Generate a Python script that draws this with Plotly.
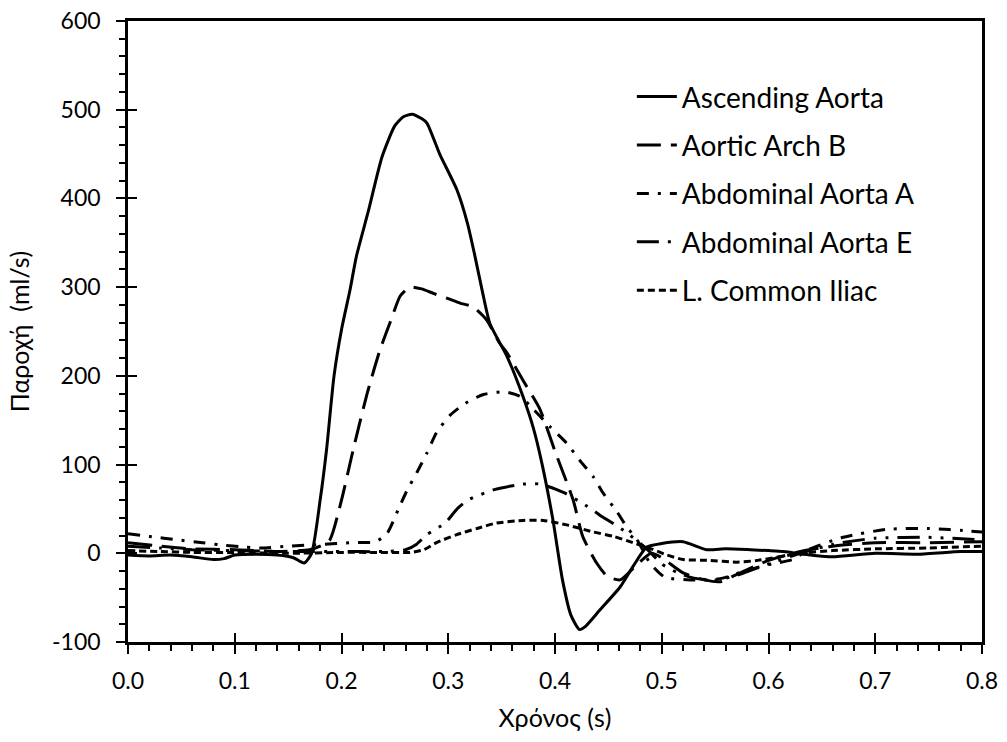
import plotly.graph_objects as go

# ---------------- data ----------------
asc_x = [0, 0.02, 0.04, 0.06, 0.08, 0.09, 0.10, 0.12, 0.14, 0.155, 0.165, 0.172, 0.18, 0.186,
         0.193, 0.20, 0.208, 0.214, 0.225, 0.238, 0.25, 0.258, 0.266, 0.275, 0.28, 0.292, 0.308,
         0.318, 0.325, 0.332, 0.339, 0.355, 0.369, 0.38, 0.388, 0.398, 0.407, 0.415, 0.423, 0.428,
         0.442, 0.461, 0.473, 0.486, 0.50, 0.52, 0.542, 0.56, 0.583, 0.60, 0.614, 0.64, 0.66,
         0.70, 0.74, 0.78, 0.80]
asc_y = [-2, -3, -2, -4, -7, -6, -2, -1, -2, -5, -11, 0, 60, 117,
         200, 252, 297, 335, 385, 447, 482, 492, 495, 490, 485, 450, 410,
         372, 335, 295, 259, 222, 180, 140, 100, 38, -30, -70, -86, -83,
         -64, -38, -15, 7, 11, 13, 4, 5, 4, 3, 2, -2, -4,
         0, -1, 2, 2]

arch_x = [0, 0.03, 0.06, 0.10, 0.14, 0.17, 0.18, 0.189, 0.20, 0.211, 0.224, 0.236, 0.247, 0.255,
          0.264, 0.275, 0.286, 0.30, 0.311, 0.323, 0.336, 0.348, 0.355, 0.37, 0.386, 0.40, 0.417,
          0.426, 0.439, 0.449, 0.461, 0.475, 0.49, 0.50, 0.52, 0.54, 0.555, 0.57, 0.60, 0.63,
          0.66, 0.70, 0.75, 0.80]
arch_y = [12, 8, 5, 4, 2, 4, 8, 15, 60, 117, 180, 229, 265, 290,
          300, 298, 293, 287, 282, 278, 263, 237, 226, 195, 162, 115, 60,
          19, -11, -26, -30, -15, 0, -5, -22, -30, -32, -24, -8, 2,
          8, 12, 12, 13]

abdA_x = [0, 0.02, 0.047, 0.07, 0.086, 0.11, 0.126, 0.15, 0.18, 0.21, 0.232, 0.243, 0.253, 0.261,
          0.271, 0.28, 0.289, 0.302, 0.316, 0.333, 0.353, 0.367, 0.38, 0.395, 0.411, 0.423, 0.436,
          0.445, 0.458, 0.467, 0.477, 0.489, 0.503, 0.527, 0.545, 0.557, 0.583, 0.603, 0.623,
          0.637, 0.67, 0.711, 0.751, 0.789, 0.80]
abdA_y = [22, 19, 15, 12, 9.5, 7, 6, 8, 10, 12, 13, 23, 49, 70,
          92, 113, 136, 156, 169, 179, 182, 177, 162, 143, 124, 105, 86,
          68, 47, 30, 15, -11, -27, -30, -30, -28, -18, -12, -7,
          4, 18, 27, 28, 25, 24]

abdE_x = [0, 0.03, 0.06, 0.10, 0.15, 0.20, 0.24, 0.26, 0.27, 0.28, 0.297, 0.309, 0.32, 0.344,
          0.37, 0.386, 0.409, 0.43, 0.442, 0.464, 0.486, 0.50, 0.515, 0.53, 0.55, 0.57, 0.60,
          0.63, 0.66, 0.70, 0.75, 0.80]
abdE_y = [8, 6, 4, 3, 2, 2, 2, 4, 10, 21, 34, 51, 61, 72,
          78, 78, 68, 53, 43, 26, 5, -12, -22, -28, -30, -25, -12,
          0, 10, 17, 18, 15]

ilia_x = [0, 0.03, 0.06, 0.10, 0.15, 0.20, 0.236, 0.265, 0.277, 0.289, 0.308, 0.327, 0.345, 0.37,
          0.389, 0.411, 0.436, 0.455, 0.473, 0.49, 0.505, 0.52, 0.545, 0.57, 0.59, 0.61, 0.63,
          0.66, 0.70, 0.75, 0.80]
ilia_y = [3, 2, 1, 1, 0, 1, 1, 1, 4, 12, 21, 28, 34, 37,
          37, 32, 24, 19, 12, 5, -2, -7, -8, -10, -8, -4, 0,
          3, 5, 6, 8]

names = ["Ascending Aorta", "Aortic Arch B", "Abdominal Aorta A", "Abdominal Aorta E", "L. Common Iliac"]
x_ticks = [0.0, 0.1, 0.2, 0.3, 0.4, 0.5, 0.6, 0.7, 0.8]
x_tick_text = ["0.0", "0.1", "0.2", "0.3", "0.4", "0.5", "0.6", "0.7", "0.8"]
y_ticks = [-100, 0, 100, 200, 300, 400, 500, 600]
y_tick_text = ["-100", "0", "100", "200", "300", "400", "500", "600"]

# ---------------- styles ----------------
dashes = ["solid", "24px,10px", "12px,9px,3px,9px", "22px,9px,3px,9px,3px,9px", "7px,4px"]
series = [(asc_x, asc_y), (arch_x, arch_y), (abdA_x, abdA_y), (abdE_x, abdE_y), (ilia_x, ilia_y)]

FONT = "Lato, 'Noto Sans', 'DejaVu Sans', sans-serif"
TICK_SIZE = 23
TITLE_SIZE = 25
LEG_SIZE = 28

fig = go.Figure()
for i, ((xs, ys), nm, dsh) in enumerate(zip(series, names, dashes)):
    fig.add_trace(go.Scatter(
        x=xs, y=ys, name=nm, mode="lines", legendgroup=f"g{i}",
        line=dict(color="black", width=3, dash=dsh, shape="spline", smoothing=0.6),
    ))

# empty trace to carry the overlay axes (inner half of the crossing major ticks)
fig.add_trace(go.Scatter(x=[], y=[], xaxis="x2", yaxis="y2", showlegend=False, hoverinfo="skip"))

axis_common = dict(showgrid=False, zeroline=False, color="black",
                   tickfont=dict(family=FONT, size=TICK_SIZE, color="black"))

fig.update_layout(
    width=1007, height=742,
    paper_bgcolor="white", plot_bgcolor="white",
    margin=dict(l=128, r=25, t=21, b=100, autoexpand=False),
    font=dict(family=FONT, size=TICK_SIZE, color="black"),
    showlegend=True,
    legend=dict(x=0.59, y=0.918, xanchor="left", yanchor="top",
                bgcolor="rgba(0,0,0,0)", tracegroupgap=9,
                font=dict(family=FONT, size=LEG_SIZE, color="black"), itemwidth=40),
    xaxis=dict(range=[0, 0.8], tickvals=x_ticks, ticktext=x_tick_text,
               ticks="outside", ticklen=9, tickwidth=2, tickcolor="black",
               minor=dict(dtick=0.02, ticks="outside", ticklen=6, tickwidth=2, tickcolor="black"),
               showline=True, linewidth=2.5, linecolor="black", mirror=True,
               ticklabelstandoff=8,
               title=dict(text="Χρόνος (s)", font=dict(family=FONT, size=TITLE_SIZE), standoff=17),
               **axis_common),
    yaxis=dict(range=[-100, 600], tickvals=y_ticks, ticktext=y_tick_text,
               ticks="outside", ticklen=9, tickwidth=2, tickcolor="black",
               minor=dict(dtick=20, ticks="outside", ticklen=6, tickwidth=2, tickcolor="black"),
               showline=True, linewidth=2.5, linecolor="black", mirror=True,
               ticklabelstandoff=11,
               title=dict(text="Παροχή\u00a0 (ml/s)", font=dict(family=FONT, size=TITLE_SIZE), standoff=16),
               **axis_common),
    xaxis2=dict(range=[0, 0.8], overlaying="x", anchor="y2", side="bottom",
                tickvals=x_ticks, ticks="inside", ticklen=9, tickwidth=2, tickcolor="black",
                showticklabels=False, showline=False, showgrid=False, zeroline=False),
    yaxis2=dict(range=[-100, 600], overlaying="y", anchor="x2", side="left",
                tickvals=y_ticks, ticks="inside", ticklen=9, tickwidth=2, tickcolor="black",
                showticklabels=False, showline=False, showgrid=False, zeroline=False),
)

fig.write_html("out.html")
